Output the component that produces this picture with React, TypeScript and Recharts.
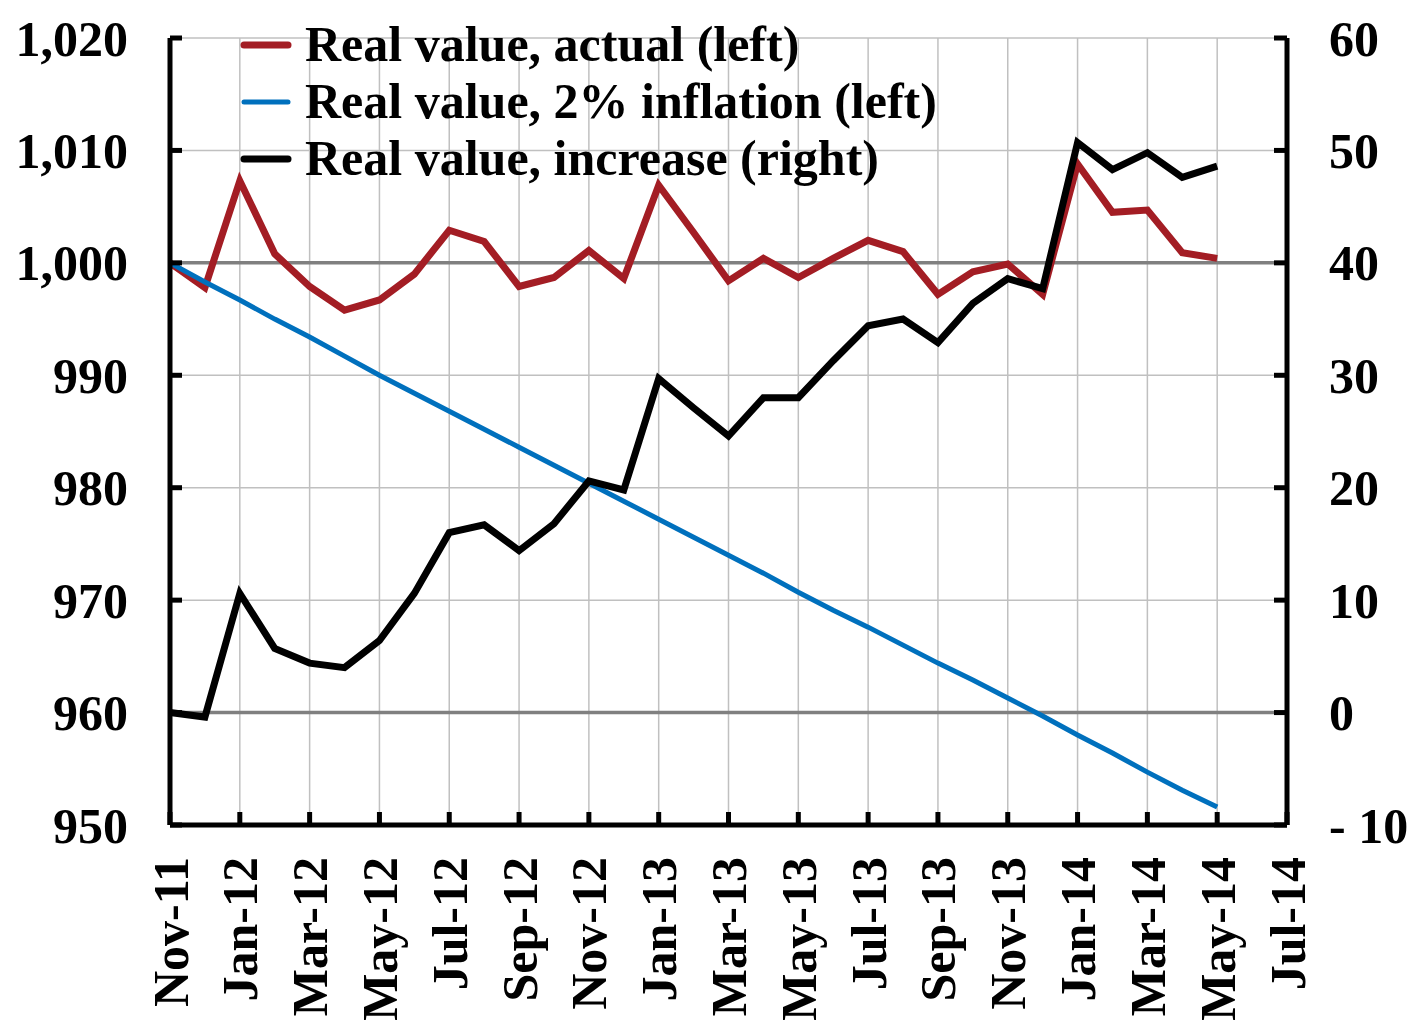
import { LineChart, Line, XAxis, YAxis, CartesianGrid, ReferenceLine, Legend } from "recharts";

const months = [
  "Nov-11", "Dec-11", "Jan-12", "Feb-12", "Mar-12", "Apr-12", "May-12", "Jun-12", "Jul-12", "Aug-12", "Sep-12",
  "Oct-12", "Nov-12", "Dec-12", "Jan-13", "Feb-13", "Mar-13", "Apr-13", "May-13", "Jun-13", "Jul-13", "Aug-13",
  "Sep-13", "Oct-13", "Nov-13", "Dec-13", "Jan-14", "Feb-14", "Mar-14", "Apr-14", "May-14", "Jun-14", "Jul-14",
];

// left axis
const actual = [
  1000, 997.8, 1007.3, 1000.8, 997.9, 995.8, 996.7, 999.0, 1002.9, 1001.9, 997.9, 998.7, 1001.1, 998.6, 1006.9,
  1002.7, 998.4, 1000.4, 998.7, 1000.4, 1002.0, 1001.0, 997.2, 999.2, 999.9, 997.2, 1008.8, 1004.5, 1004.7,
  1000.9, 1000.4,
];
const inflation2 = [
  1000, 998.3, 996.7, 995.0, 993.4, 991.7, 990.0, 988.4, 986.8, 985.2, 983.6, 982.0, 980.4, 978.8, 977.2, 975.6,
  974.0, 972.4, 970.7, 969.1, 967.6, 966.0, 964.4, 962.9, 961.3, 959.7, 958.0, 956.4, 954.7, 953.1, 951.6,
];
// right axis
const increase = [
  0, -0.4, 10.6, 5.7, 4.4, 4.0, 6.4, 10.6, 16.0, 16.7, 14.4, 16.8, 20.6, 19.8, 29.7, 27.1, 24.6, 28.0, 28.0, 31.3,
  34.4, 35.0, 32.9, 36.4, 38.6, 37.7, 50.7, 48.3, 49.8, 47.6, 48.6,
];

const leftTicks = [950, 960, 970, 980, 990, 1000, 1010, 1020];
const rightTicks = [-10, 0, 10, 20, 30, 40, 50, 60];

const series = [
  { key: "actual", name: "Real value, actual (left)", color: "#A31D24", width: 7, axis: "left" },
  { key: "infl", name: "Real value, 2% inflation (left)", color: "#0070BD", width: 5, axis: "left" },
  { key: "incr", name: "Real value, increase (right)", color: "#000000", width: 7, axis: "right" },
];

const data = months.map((m, i) => ({
  month: m,
  actual: actual[i],
  infl: inflation2[i],
  incr: increase[i],
}));

const FONT = '"Liberation Serif", "Times New Roman", serif';
const FS = 50;

const fmtLeft = (v: number) => v.toLocaleString("en-US");
const fmtRight = (v: number) => (v < 0 ? `- ${Math.abs(v)}` : `${v}`);

function LeftTick({ x, y, payload }: any) {
  return (
    <g>
      <line x1={x} x2={x + 12} y1={y} y2={y} stroke="#000" strokeWidth={5} />
      <text x={x - 42} y={y} dy="0.35em" textAnchor="end" fontFamily={FONT} fontWeight="bold" fontSize={FS} fill="#000">
        {fmtLeft(payload.value)}
      </text>
    </g>
  );
}

function RightTick({ x, y, payload }: any) {
  return (
    <g>
      <line x1={x - 13} x2={x} y1={y} y2={y} stroke="#000" strokeWidth={5} />
      <text x={x + 42} y={y} dy="0.35em" textAnchor="start" fontFamily={FONT} fontWeight="bold" fontSize={FS} fill="#000">
        {fmtRight(payload.value)}
      </text>
    </g>
  );
}

function BottomTick({ x, y, payload }: any) {
  const ty = y + 32;
  return (
    <g>
      <line x1={x} x2={x} y1={y} y2={y - 13} stroke="#000" strokeWidth={5} />
      <text
        x={x}
        y={ty}
        dy="0.35em"
        textAnchor="end"
        transform={`rotate(-90, ${x}, ${ty})`}
        fontFamily={FONT}
        fontWeight="bold"
        fontSize={FS}
        fill="#000"
      >
        {payload.value}
      </text>
    </g>
  );
}

function LegendBox() {
  return (
    <div style={{ display: "flex", flexDirection: "column" }}>
      {series.map((s) => (
        <div key={s.key} style={{ display: "flex", alignItems: "center", height: 57 }}>
          <svg width={65} height={12}>
            <line x1={4} x2={48} y1={6} y2={6} stroke={s.color} strokeWidth={s.width} strokeLinecap="round" />
          </svg>
          <span style={{ fontFamily: FONT, fontWeight: "bold", fontSize: 50, color: "#000", lineHeight: "57px" }}>
            {s.name}
          </span>
        </div>
      ))}
    </div>
  );
}

export default function App() {
  return (
    <div>
      <style>{`body{margin:0;background:#fff}`}</style>
      <LineChart width={1422} height={1033} data={data} margin={{ top: 38, right: 0, bottom: 0, left: 0 }}>
        <CartesianGrid stroke="#c0c0c0" strokeWidth={1.5} yAxisId="left" />
        <XAxis
          dataKey="month"
          interval={1}
          height={208}
          tickSize={0}
          tickMargin={0}
          tick={<BottomTick />}
          axisLine={{ stroke: "#000", strokeWidth: 5 }}
          tickLine={false}
        />
        <YAxis
          yAxisId="left"
          orientation="left"
          width={170}
          domain={[950, 1020]}
          ticks={leftTicks}
          tickSize={0}
          tickMargin={0}
          tick={<LeftTick />}
          tickLine={false}
          axisLine={{ stroke: "#000", strokeWidth: 5 }}
          interval={0}
        />
        <YAxis
          yAxisId="right"
          orientation="right"
          width={135}
          domain={[-10, 60]}
          ticks={rightTicks}
          tickSize={0}
          tickMargin={0}
          tick={<RightTick />}
          tickLine={false}
          axisLine={{ stroke: "#000", strokeWidth: 5 }}
          interval={0}
        />
        <ReferenceLine yAxisId="left" y={1000} stroke="#808080" strokeWidth={3.5} />
        <ReferenceLine yAxisId="left" y={960} stroke="#808080" strokeWidth={3.5} />
        {series.map((s) => (
          <Line
            key={s.key}
            yAxisId={s.axis}
            type="linear"
            dataKey={s.key}
            name={s.name}
            stroke={s.color}
            strokeWidth={s.width}
            dot={false}
            activeDot={false}
            isAnimationActive={false}
            strokeLinejoin="miter"
          />
        ))}
        <Legend
          layout="vertical"
          align="center"
          verticalAlign="middle"
          content={<LegendBox />}
          wrapperStyle={{ top: 16, left: 240, width: "auto", height: "auto" }}
        />
      </LineChart>
    </div>
  );
}
